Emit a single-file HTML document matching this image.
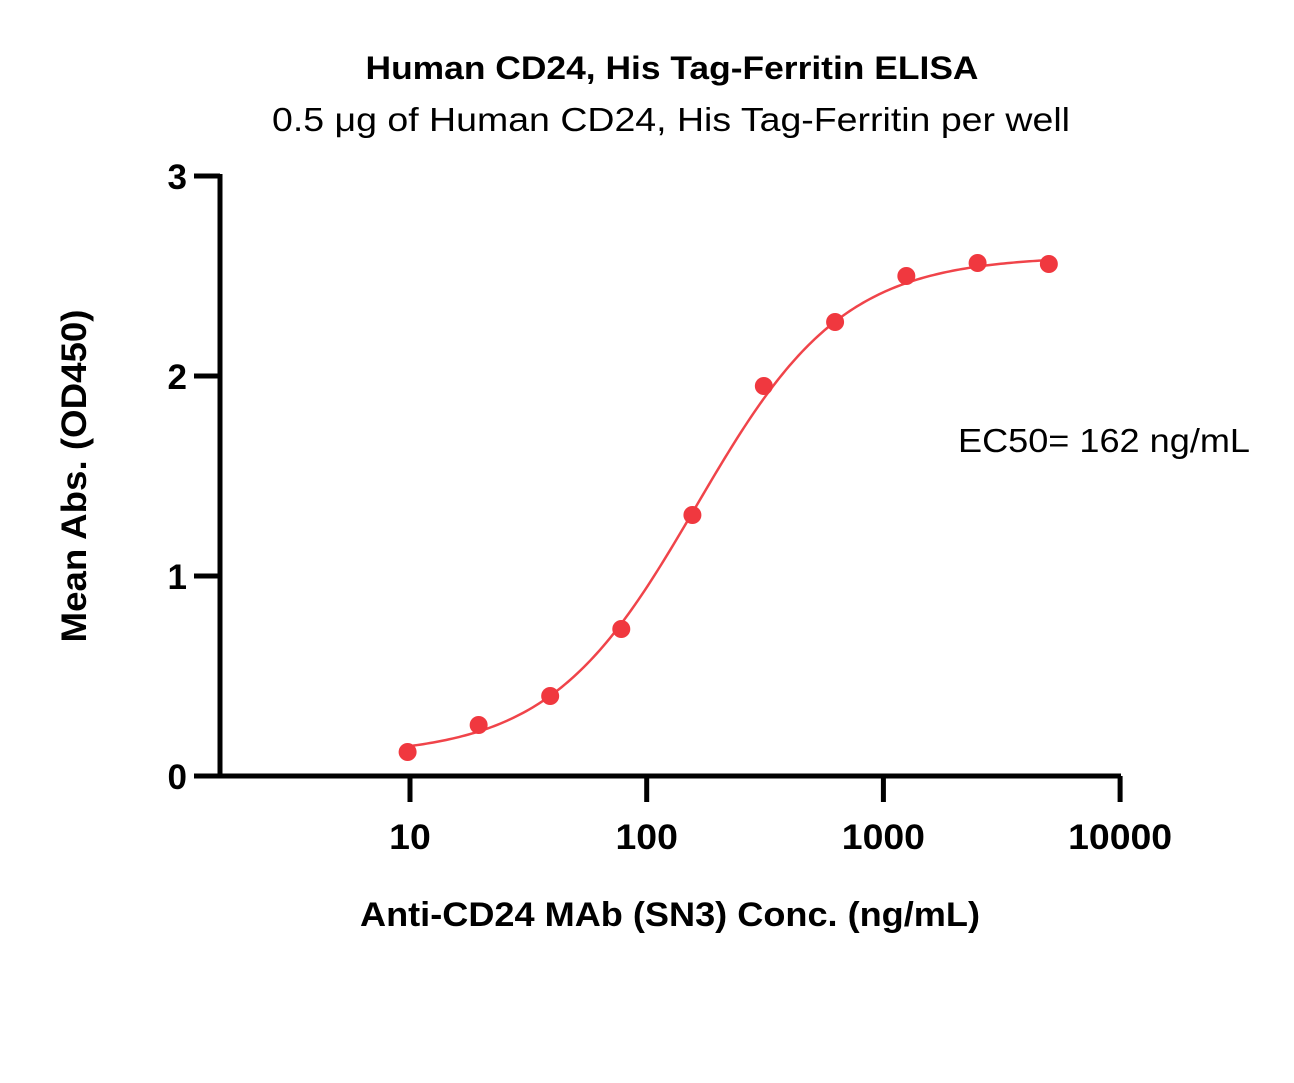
<!DOCTYPE html>
<html><head><meta charset="utf-8"><style>
html,body{margin:0;padding:0;background:#fff;}
svg{display:block;font-family:"Liberation Sans","DejaVu Sans",sans-serif;}
</style></head><body>
<svg id="chart" width="1294" height="1083" viewBox="0 0 1294 1083">
<text x="672" y="79" text-anchor="middle" font-size="32" font-weight="bold" textLength="613" lengthAdjust="spacingAndGlyphs">Human CD24, His Tag-Ferritin ELISA</text>
<text x="671" y="131" text-anchor="middle" font-size="33" textLength="798" lengthAdjust="spacingAndGlyphs">0.5 μg of Human CD24, His Tag-Ferritin per well</text>
<text x="1104" y="452" text-anchor="middle" font-size="33" textLength="292" lengthAdjust="spacingAndGlyphs">EC50= 162 ng/mL</text>
<text transform="translate(86,476) rotate(-90)" text-anchor="middle" font-size="35" font-weight="bold" textLength="333" lengthAdjust="spacingAndGlyphs">Mean Abs. (OD450)</text>
<text x="670" y="926" text-anchor="middle" font-size="34" font-weight="bold" textLength="620" lengthAdjust="spacingAndGlyphs">Anti-CD24 MAb (SN3) Conc. (ng/mL)</text>
<g id="axes"></g>
<g id="marks"></g>
</svg>
<script>
const conc = [9.77, 19.5, 39.1, 78.1, 156, 312.5, 625, 1250, 2500, 5000];
const od = [0.12, 0.255, 0.40, 0.735, 1.305, 1.95, 2.27, 2.50, 2.565, 2.56];
const yTicks = [0, 1, 2, 3];
const xTicks = [10, 100, 1000, 10000];
const xTickLabels = ["10", "100", "1000", "10000"];
const fitBottom = 0.1, fitTop = 2.6, fitEC50 = 162, fitHill = 1.4;

const NS = "http://www.w3.org/2000/svg";
const xs = v => 410 + (Math.log10(v) - 1) * 236.7;
const ys = v => 776 - v * 200;
const axes = document.getElementById('axes');
const marks = document.getElementById('marks');
function mk(tag, attrs, parent) {
  const e = document.createElementNS(NS, tag);
  for (const k in attrs) e.setAttribute(k, attrs[k]);
  parent.appendChild(e);
  return e;
}
let e = mk('line', {x1: 220, y1: 174, x2: 220, y2: 776, stroke: '#000', 'stroke-width': 5}, axes);


e = mk('line', {x1: 194, y1: 776, x2: 1121, y2: 776, stroke: '#000', 'stroke-width': 5}, axes);


yTicks.forEach(t => {
  const l = mk('line', {x1: 194, y1: ys(t), x2: 220, y2: ys(t), stroke: '#000', 'stroke-width': 5}, axes);
  
  
  const tx = mk('text', {x: 187, y: ys(t) + 13, 'text-anchor': 'end', 'font-size': 35, 'font-weight': 'bold'}, axes);
  tx.textContent = String(t);
  
  
});
xTicks.forEach((t, i) => {
  const l = mk('line', {x1: xs(t), y1: 776, x2: xs(t), y2: 802, stroke: '#000', 'stroke-width': 5}, axes);
  
  
  const tx = mk('text', {x: xs(t), y: 849, 'text-anchor': 'middle', 'font-size': 35, 'font-weight': 'bold', textLength: xTickLabels[i].length * 20.8, lengthAdjust: 'spacingAndGlyphs'}, axes);
  tx.textContent = xTickLabels[i];
  
  
});
const lo = Math.log10(conc[0]), hi = Math.log10(conc[conc.length - 1]);
let d = '';
for (let i = 0; i <= 200; i++) {
  const lx = lo + (hi - lo) * i / 200, x = Math.pow(10, lx);
  const y = fitBottom + (fitTop - fitBottom) / (1 + Math.pow(fitEC50 / x, fitHill));
  d += (i ? 'L' : 'M') + xs(x).toFixed(2) + ' ' + ys(y).toFixed(2);
}
const curve = mk('path', {d: d, fill: 'none', stroke: '#f0444a', 'stroke-width': 2.5}, marks);


conc.forEach((c, i) => {
  const p = mk('circle', {cx: xs(c), cy: ys(od[i]), r: 9, fill: '#f0383f'}, marks);
  
  
});
</script>
</body></html>
